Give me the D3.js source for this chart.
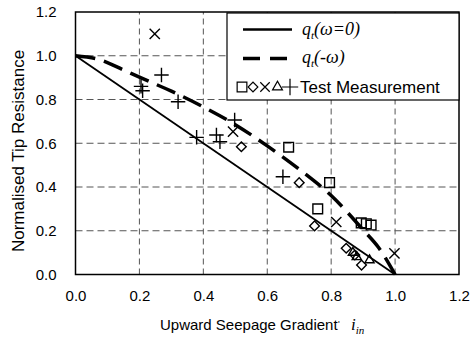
<!DOCTYPE html>
<html>
<head>
<meta charset="utf-8">
<script src="https://cdn.jsdelivr.net/npm/d3@7"></script>
<style>
  body { margin: 0; background: #fff; }
  svg { display: block; font-family: "Liberation Sans", Arial, sans-serif; }
</style>
</head>
<body>
<div id="chart"></div>
<script>
// Theory curves
const solidX = [0, 1.0];
const solidY = [1.0, 0];
const dashX = [0, 0.08, 0.15, 0.2, 0.3, 0.4, 0.5, 0.6, 0.7, 0.8, 0.9, 0.95, 1.0];
const dashY = [1.0, 0.98, 0.935, 0.902, 0.838, 0.766, 0.685, 0.588, 0.481, 0.361, 0.204, 0.12, 0];

// Test measurements, one array pair per marker
const squareX = [0.667, 0.795, 0.758, 0.894, 0.91, 0.925];
const squareY = [0.582, 0.42, 0.30, 0.236, 0.232, 0.226];
const diamondX = [0.519, 0.70, 0.748, 0.847, 0.874, 0.895];
const diamondY = [0.584, 0.42, 0.222, 0.12, 0.089, 0.043];
const crossX = [0.248, 0.493, 0.816, 0.998];
const crossY = [1.10, 0.653, 0.24, 0.097];
const triangleX = [0.868, 0.92, 0.88];
const triangleY = [0.10, 0.066, 0.08];
const plusX = [0.269, 0.205, 0.21, 0.321, 0.498, 0.379, 0.441, 0.452, 0.649];
const plusY = [0.912, 0.86, 0.84, 0.79, 0.706, 0.627, 0.638, 0.607, 0.447];

const xTicks = [0, 0.2, 0.4, 0.6, 0.8, 1.0, 1.2];
const yTicks = [0, 0.2, 0.4, 0.6, 0.8, 1.0, 1.2];

const width = 476, height = 338;
const margin = { top: 12, right: 17, bottom: 63.5, left: 75.5 };

const svg = d3.select("#chart").append("svg")
  .attr("width", width)
  .attr("height", height);

const x = d3.scaleLinear().domain([0, 1.2]).range([margin.left, width - margin.right]);
const y = d3.scaleLinear().domain([0, 1.2]).range([height - margin.bottom, margin.top]);

// Grid lines
svg.append("g")
  .selectAll("line")
  .data(xTicks.slice(1, -1))
  .enter().append("line")
  .attr("x1", d => x(d)).attr("x2", d => x(d))
  .attr("y1", y(0)).attr("y2", y(1.2))
  .attr("stroke", "#555").attr("stroke-width", 1)
  .attr("stroke-dasharray", "6,4");
svg.append("g")
  .selectAll("line")
  .data(yTicks.slice(1, -1))
  .enter().append("line")
  .attr("x1", x(0)).attr("x2", x(1.2))
  .attr("y1", d => y(d)).attr("y2", d => y(d))
  .attr("stroke", "#555").attr("stroke-width", 1)
  .attr("stroke-dasharray", "7,4");

// Axes with labels
const xAxis = svg.append("g")
  .attr("transform", `translate(0,${y(0)})`)
  .call(d3.axisBottom(x).tickValues(xTicks).tickFormat(d3.format(".1f")).tickSize(0).tickPadding(16));
const yAxis = svg.append("g")
  .attr("transform", `translate(${x(0)},0)`)
  .call(d3.axisLeft(y).tickValues(yTicks).tickFormat(d3.format(".1f")).tickSize(0).tickPadding(19));
[xAxis, yAxis].forEach(a => {
  a.select(".domain").remove();
  a.selectAll("text")
    .style("font-size", "15px")
    .style("font-family", "'Liberation Sans', Arial, sans-serif")
    .attr("fill", "#000");
});

// Frame
svg.append("rect")
  .attr("x", x(0)).attr("y", y(1.2))
  .attr("width", x(1.2) - x(0)).attr("height", y(0) - y(1.2))
  .attr("fill", "none").attr("stroke", "#000").attr("stroke-width", 1.5);

// Theory lines
const line = d3.line().x(d => x(d[0])).y(d => y(d[1]));
svg.append("path")
  .datum(d3.zip(solidX, solidY))
  .attr("d", line)
  .attr("fill", "none").attr("stroke", "#000").attr("stroke-width", 1.8);
svg.append("path")
  .datum(d3.zip(dashX, dashY))
  .attr("d", line.curve(d3.curveMonotoneX))
  .attr("fill", "none").attr("stroke", "#000").attr("stroke-width", 3.5)
  .attr("stroke-dasharray", "20,9");

// Markers
const markers = [
  { xs: squareX, ys: squareY, type: d3.symbolSquare2, size: 120, rot: 0 },
  { xs: diamondX, ys: diamondY, type: d3.symbolSquare2, size: 60, rot: 45 },
  { xs: crossX, ys: crossY, type: d3.symbolTimes, size: 70, rot: 0 },
  { xs: triangleX, ys: triangleY, type: d3.symbolTriangle2, size: 60, rot: 0 },
  { xs: plusX, ys: plusY, type: d3.symbolPlus, size: 70, rot: 0 }
];
markers.forEach(m => {
  svg.append("g")
    .selectAll("path")
    .data(d3.zip(m.xs, m.ys))
    .enter().append("path")
    .attr("d", d3.symbol().type(m.type).size(m.size))
    .attr("transform", d => `translate(${x(d[0])},${y(d[1])}) rotate(${m.rot})`)
    .attr("fill", "none").attr("stroke", "#000").attr("stroke-width", 1.4);
});

// Legend
const lg = svg.append("g");
lg.append("rect")
  .attr("x", 227).attr("y", 13).attr("width", x(1.2) - 227).attr("height", 87)
  .attr("fill", "#fff").attr("stroke", "#000").attr("stroke-width", 1.2);
lg.append("line").attr("x1", 243).attr("x2", 292).attr("y1", 29.5).attr("y2", 29.5)
  .attr("stroke", "#000").attr("stroke-width", 2.4);
lg.append("line").attr("x1", 243).attr("x2", 292).attr("y1", 58.5).attr("y2", 58.5)
  .attr("stroke", "#000").attr("stroke-width", 3.5).attr("stroke-dasharray", "17,10");

function qLabel(yPos, inner) {
  const t = lg.append("text")
    .attr("x", 302).attr("y", yPos)
    .style("font-family", "'Liberation Serif', 'DejaVu Serif', serif")
    .style("font-size", "18px").style("font-style", "italic");
  t.append("tspan").text("q");
  t.append("tspan").attr("dy", 4).style("font-size", "11px").text("t");
  t.append("tspan").attr("dy", -4).text(inner);
}
qLabel(35, "(ω=0)");
qLabel(63, "(-ω)");

const legendMarkers = [
  { cx: 242, type: d3.symbolSquare2, size: 120, rot: 0 },
  { cx: 253, type: d3.symbolSquare2, size: 60, rot: 45 },
  { cx: 265, type: d3.symbolTimes, size: 60, rot: 0 },
  { cx: 277.5, type: d3.symbolTriangle2, size: 70, rot: 0 },
  { cx: 290, type: d3.symbolPlus, size: 90, rot: 0 }
];
lg.selectAll("path.lm")
  .data(legendMarkers)
  .enter().append("path")
  .attr("class", "lm")
  .attr("d", d => d3.symbol().type(d.type).size(d.size)())
  .attr("transform", d => `translate(${d.cx},87) rotate(${d.rot})`)
  .attr("fill", "none").attr("stroke", "#000").attr("stroke-width", 1.2);
lg.append("text")
  .attr("x", 300).attr("y", 93)
  .style("font-size", "17px")
  .text("Test Measurement");

// Axis titles
svg.append("text")
  .attr("transform", `translate(24,151) rotate(-90)`)
  .attr("text-anchor", "middle")
  .style("font-size", "17px")
  .text("Normalised Tip Resistance");

const xt = svg.append("text")
  .attr("x", 160).attr("y", 330)
  .style("font-size", "15px");
xt.append("tspan").text("Upward Seepage Gradient");
xt.append("tspan").attr("x", 338).style("font-size", "9px").attr("dy", -3).text("'");
xt.append("tspan").attr("x", 351).attr("dy", 3)
  .style("font-family", "'Liberation Serif', serif").style("font-style", "italic")
  .style("font-size", "17px").text("i");
xt.append("tspan").attr("dy", 4)
  .style("font-family", "'Liberation Serif', serif").style("font-style", "italic")
  .style("font-size", "11px").text("in");
</script>
</body>
</html>
